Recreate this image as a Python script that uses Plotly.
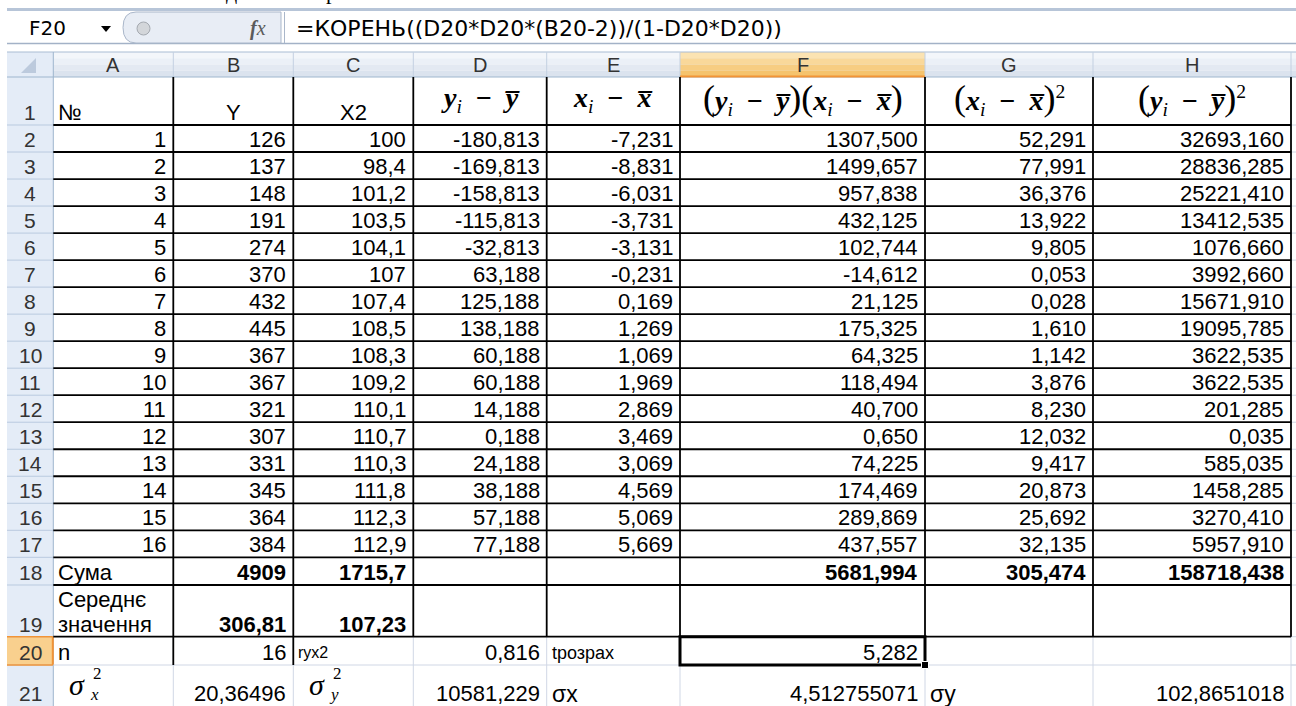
import plotly.graph_objects as go

W, H = 1296, 706

# ---------------- data ----------------
obs_no = list(range(1, 17))
Y = [126, 137, 148, 191, 274, 370, 432, 445, 367, 367, 321, 307, 331, 345, 364, 384]
X2 = [100, 98.4, 101.2, 103.5, 104.1, 107, 107.4, 108.5, 108.3, 109.2, 110.1, 110.7,
      110.3, 111.8, 112.3, 112.9]
dev_y = [-180.813, -169.813, -158.813, -115.813, -32.813, 63.188, 125.188, 138.188,
         60.188, 60.188, 14.188, 0.188, 24.188, 38.188, 57.188, 77.188]
dev_x = [-7.231, -8.831, -6.031, -3.731, -3.131, -0.231, 0.169, 1.269, 1.069, 1.969,
         2.869, 3.469, 3.069, 4.569, 5.069, 5.669]
prod_dev = [1307.500, 1499.657, 957.838, 432.125, 102.744, -14.612, 21.125, 175.325,
            64.325, 118.494, 40.700, 0.650, 74.225, 174.469, 289.869, 437.557]
dev_x_sq = [52.291, 77.991, 36.376, 13.922, 9.805, 0.053, 0.028, 1.610, 1.142, 3.876,
            8.230, 12.032, 9.417, 20.873, 25.692, 32.135]
dev_y_sq = [32693.160, 28836.285, 25221.410, 13412.535, 1076.660, 3992.660, 15671.910,
            19095.785, 3622.535, 3622.535, 201.285, 0.035, 585.035, 1458.285, 3270.410,
            5957.910]
sum_Y, sum_X2 = 4909, 1715.7
sum_prod, sum_dx2, sum_dy2 = 5681.994, 305.474, 158718.438
mean_Y, mean_X2 = 306.81, 107.23
n_obs, r_yx2, t_calc = 16, 0.816, 5.282
var_x, var_y = 20.36496, 10581.229
sd_x, sd_y = 4.512755071, 102.8651018

col_letters = ["A", "B", "C", "D", "E", "F", "G", "H"]
row_numbers = list(range(1, 22))
name_box = "F20"
formula = "=КОРЕНЬ((D20*D20*(B20-2))/(1-D20*D20))"
head_labels = ["№", "Y", "X2"]
sum_label = "Сума"
mean_label = ["Середнє", "значення"]
n_label = "n"
r_label = "ryx2"
t_label = "tрозрах"
sdx_label = "σx"
sdy_label = "σy"

# ---------------- geometry / style ----------------
SANS = "Liberation Sans, Arial, sans-serif"
UI = "DejaVu Sans, Verdana, sans-serif"
SERIF = "Liberation Serif, Times New Roman, serif"
FS = 22
XE = [53.3, 173.3, 293.3, 413.3, 546.7, 680.0, 925.0, 1093.0, 1291.0]
RE = [77.0, 125.0] + [125.0 + 27.02 * k for k in range(1, 17)] + [585.0, 636.7, 665.0, 706.0]
GRID = "#d0d7e5"
HDR_LINE = "#9eb6ce"
HDR_SEP = "#c3d0e1"
ORANGE_LINE = "#f29436"

shapes = []
ann = []


def rect(x0, y0, x1, y1, fill, line=None, lw=1):
    shapes.append(dict(type="rect", xref="x", yref="y", x0=x0, y0=y0, x1=x1, y1=y1,
                       fillcolor=fill, line=dict(color=line or fill, width=lw if line else 0),
                       layer="below"))


def line(x0, y0, x1, y1, color, w=1, layer="above"):
    shapes.append(dict(type="line", xref="x", yref="y", x0=x0, y0=y0, x1=x1, y1=y1,
                       line=dict(color=color, width=w), layer=layer))


def text(s, x, y, size=FS, xanchor="center", color="#000", font=SANS, yanchor="middle"):
    ann.append(dict(text=s, x=x, y=y, xref="x", yref="y", showarrow=False,
                    xanchor=xanchor, yanchor=yanchor, borderpad=0,
                    font=dict(size=size, color=color, family=font)))


def cl(c):
    return XE[c]


def cr(c):
    return XE[c + 1]


def rbot(r):
    return RE[r]


def cell(s, c, r, align="right", size=FS, bold=False, dy=0, font=SANS):
    if bold:
        s = "<b>" + s + "</b>"
    y = rbot(r) - 12.5 + dy
    if align == "right":
        text(s, cr(c) - 6, y, size, "right", font=font)
    elif align == "left":
        text(s, cl(c) + 4, y, size, "left", font=font)
    else:
        text(s, (cl(c) + cr(c)) / 2, y, size, "center", font=font)


def f3(v):
    return f"{v:.3f}".replace(".", ",")


def gen(v):
    return f"{v:.10g}".replace(".", ",")


# ---------------- formula bar ----------------
rect(7, 8, W, 11, "#b7c5d8")
line(7, 43.5, W, 43.5, "#a3b2c7", 1.5)
shapes.append(dict(type="path", xref="x", yref="y",
                   path="M 281 12 L 136 12 Q 123 12 123 27.5 Q 123 43 136 43 L 281 43 Z",
                   fillcolor="#e8edf5", line=dict(color="#aab7ca", width=1)))
shapes.append(dict(type="circle", xref="x", yref="y", x0=137, y0=22, x1=150, y1=35,
                   fillcolor="#d3d6da", line=dict(color="#a4a9b0", width=1)))
line(284.5, 12, 284.5, 43, "#aab7ca", 1)
shapes.append(dict(type="path", xref="x", yref="y", path="M 101 26 L 111 26 L 106 32 Z",
                   fillcolor="#000", line=dict(width=0)))
text(name_box, 47, 28, 20, "center", "#000", UI)
text("<b><i>f</i></b><i>x</i>", 258, 28, 20, "center", "#5b5b5b", SERIF)
text(formula, 295, 28, 22, "left", "#000", UI)
# descenders of the cut-off document line above the formula bar
text("д", 231, 5, 22, "center", "#000", SERIF, yanchor="bottom")
text("р", 331, 5, 22, "center", "#000", SERIF, yanchor="bottom")

# ---------------- column header row ----------------
bands = ["#f3f6fa", "#ebf0f7", "#e3e9f2", "#dbe3ee"]
for i, c in enumerate(bands):
    rect(7, 52 + i * 6.25, W, 52 + (i + 1) * 6.25, c)
obands = ["#fbe3b2", "#f9d89a", "#f7cd82", "#f5c36d"]
for i, c in enumerate(obands):
    rect(cl(5), 52 + i * 6.25, cr(5), 52 + (i + 1) * 6.25, c)
line(7, 52, W, 52, "#a9bcd3", 1)
for x in XE[1:]:
    line(x, 52, x, 77, HDR_SEP, 1)
line(7, 77, W, 77, HDR_LINE, 1)
line(cl(5), 76.5, cr(5), 76.5, ORANGE_LINE, 2)
for i, L in enumerate(col_letters):
    text(L, (cl(i) + cr(i)) / 2, 64.5, 20, "center", "#333333")

# ---------------- row header column ----------------
rect(7, 52, 53.3, H, "#e4ecf7")
shapes.append(dict(type="path", xref="x", yref="y", path="M 36 58 L 36 73 L 21 73 Z",
                   fillcolor="#bccadd", line=dict(width=0)))
rect(7, RE[19], 53.3, RE[20], "#f9d08e")
for y in RE[1:21]:
    line(7, y, 53.3, y, "#b9cadf", 1)
line(7, RE[19], 53.3, RE[19], ORANGE_LINE, 1.5)
line(7, RE[20], 53.3, RE[20], ORANGE_LINE, 1.5)
line(53.3, 52, 53.3, H, HDR_LINE, 1)
line(52.8, RE[19], 52.8, RE[20], ORANGE_LINE, 2)
for r in row_numbers:
    text(str(r), 30, rbot(r) - 12.5, 21, "center", "#333333")

# ---------------- light grid (outside the bordered table) ----------------
for y in RE[1:21]:
    line(XE[-1], y, W, y, GRID, 1)
line(XE[0], RE[20], W, RE[20], GRID, 1)
for x in XE[1:]:
    line(x, RE[19], x, H, GRID, 1)

# ---------------- black borders of the table ----------------
for y in RE[1:20]:
    line(XE[0], y, XE[-1], y, "#000", 1.8)
for x in XE[1:]:
    line(x, RE[0], x, RE[19], "#000", 1.8)
for x in XE[1:3]:
    line(x, RE[19], x, RE[20], "#000", 1.8)

# ---------------- selected cell F20 ----------------
shapes.append(dict(type="rect", xref="x", yref="y", x0=cl(5), y0=RE[19], x1=cr(5), y1=RE[20],
                   line=dict(color="#000", width=3), fillcolor="rgba(0,0,0,0)"))
shapes.append(dict(type="rect", xref="x", yref="y", x0=cr(5) - 3.5, y0=RE[20] - 3.5,
                   x1=cr(5) + 3.5, y1=RE[20] + 3.5, fillcolor="#000",
                   line=dict(color="#fff", width=1)))

# ---------------- row 1 headers ----------------
cell(head_labels[0], 0, 1, "left")
cell(head_labels[1], 1, 1, "center")
cell(head_labels[2], 2, 1, "center")

SP = "\u2002"
BI = lambda s: "<b><i>" + s + "</i></b>"
ybar = BI("y\u0305")
xbar = BI("x\u0305")
sub_i = "<sub><i>i</i></sub>"
minus = "<b>\u2212</b>"
lp = '<span style="font-size:36px">(</span>'
rp = '<span style="font-size:36px">)</span>'
f_dy = BI("y") + sub_i + SP + minus + SP + ybar
f_dx = BI("x") + sub_i + SP + minus + SP + xbar
f_prod = (lp + BI("y") + sub_i + SP + minus + SP + ybar + rp + lp + BI("x") + sub_i + SP
          + minus + SP + xbar + rp)
f_dx2 = lp + BI("x") + sub_i + SP + minus + SP + xbar + rp + "<sup>2</sup>"
f_dy2 = lp + BI("y") + sub_i + SP + minus + SP + ybar + rp + "<sup>2</sup>"
for c, s in zip(range(3, 8), [f_dy, f_dx, f_prod, f_dx2, f_dy2]):
    text(s, (cl(c) + cr(c)) / 2, 99, 28, "center", "#000", SERIF)

# ---------------- data rows 2..17 ----------------
for i in range(16):
    r = i + 2
    cell(str(obs_no[i]), 0, r)
    cell(str(Y[i]), 1, r)
    cell(gen(X2[i]), 2, r)
    cell(f3(dev_y[i]), 3, r)
    cell(f3(dev_x[i]), 4, r)
    cell(f3(prod_dev[i]), 5, r)
    cell(f3(dev_x_sq[i]), 6, r)
    cell(f3(dev_y_sq[i]), 7, r)

# ---------------- totals ----------------
cell(sum_label, 0, 18, "left")
cell(str(sum_Y), 1, 18, bold=True)
cell(gen(sum_X2), 2, 18, bold=True)
cell(f3(sum_prod), 5, 18, bold=True)
cell(f3(sum_dx2), 6, 18, bold=True)
cell(f3(sum_dy2), 7, 18, bold=True)

cell(mean_label[0], 0, 19, "left", dy=-25)
cell(mean_label[1], 0, 19, "left")
cell(f"{mean_Y:.2f}".replace(".", ","), 1, 19, bold=True)
cell(f"{mean_X2:.2f}".replace(".", ","), 2, 19, bold=True)

cell(n_label, 0, 20, "left")
cell(str(n_obs), 1, 20)
cell(r_label, 2, 20, "left", size=16)
cell(f3(r_yx2), 3, 20)
cell(t_label, 4, 20, "left", size=18)
cell(f3(t_calc), 5, 20)


# row 21
def sigma(c, sub):
    x0 = cl(c)
    text("<i>σ</i>", x0 + 24, 684, 30, "center", "#000", SERIF)
    text("2", x0 + 44, 673, 17, "center", "#000", SERIF)
    text("<i>" + sub + "</i>", x0 + 41, 694, 17, "center", "#000", SERIF)


sigma(0, "x")
cell(gen(var_x), 1, 21)
sigma(2, "y")
cell(gen(var_y), 3, 21)
cell(sdx_label, 4, 21, "left", size=23)
cell(gen(sd_x), 5, 21)
cell(sdy_label, 6, 21, "left", size=23)
cell(gen(sd_y), 7, 21)

fig = go.Figure()
fig.update_layout(
    width=W, height=H, margin=dict(l=0, r=0, t=0, b=0),
    paper_bgcolor="#ffffff", plot_bgcolor="#ffffff",
    xaxis=dict(range=[0, W], visible=False, fixedrange=True),
    yaxis=dict(range=[H, 0], visible=False, fixedrange=True),
    shapes=shapes, annotations=ann, showlegend=False,
)
fig.write_html("out.html", config={"displayModeBar": False},
               post_script="document.body.style.margin='0';document.body.style.overflow='hidden';")
